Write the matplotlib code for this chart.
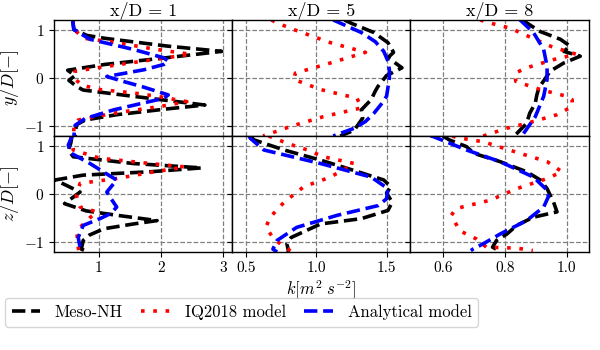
import matplotlib
matplotlib.use("Agg")
import matplotlib.pyplot as plt
from matplotlib.ticker import FormatStrFormatter
from matplotlib.lines import Line2D

plt.rcParams['font.family'] = 'serif'
plt.rcParams['font.serif'] = ['cmr10', 'DejaVu Serif']
plt.rcParams['mathtext.fontset'] = 'cm'
plt.rcParams['axes.formatter.use_mathtext'] = True
plt.rcParams['axes.unicode_minus'] = True

titles = ["x/D = 1", "x/D = 5", "x/D = 8"]
row_labels = [r"$y/D[-]$", r"$z/D[-]$"]
xlabel = r"$k[m^2\ s^{-2}]$"
legend_labels = ["Meso-NH", "IQ2018 model", "Analytical model"]
xticks = [[1, 2, 3], [0.5, 1.0, 1.5], [0.6, 0.8, 1.0]]
xlims = [(0.28, 3.15), (0.40, 1.67), (0.495, 1.07)]

# ---------------- top row (y/D) ----------------
# x/D = 1
t1_meso_y = [1.2, 1.0, 0.88, 0.82, 0.66, 0.55, 0.42, 0.28, 0.16, 0.05, -0.05, -0.18, -0.25, -0.38, -0.56, -0.64, -0.76, -0.87, -0.97, -1.2]
t1_meso_k = [0.58, 0.6, 0.81, 1.1, 2.1, 2.98, 2.1, 1.1, 0.5, 0.62, 0.52, 0.65, 0.75, 1.56, 2.71, 2.1, 1.29, 0.78, 0.64, 0.62]
t1_iq_y = [1.2, 1.0, 0.82, 0.73, 0.6, 0.49, 0.38, 0.28, 0.14, 0.0, -0.15, -0.24, -0.31, -0.38, -0.49, -0.59, -0.73, -0.87, -0.97, -1.2]
t1_iq_k = [0.58, 0.6, 0.77, 1.29, 1.88, 2.48, 1.88, 1.34, 0.62, 0.6, 0.73, 1.02, 1.56, 1.94, 2.42, 1.99, 1.24, 0.67, 0.6, 0.6]
t1_an_y = [1.2, 1.0, 0.8, 0.59, 0.42, 0.35, 0.28, 0.17, 0.03, -0.08, -0.18, -0.35, -0.42, -0.66, -0.84, -0.98, -1.2]
t1_an_k = [0.58, 0.6, 0.86, 1.56, 2.04, 2.12, 2.05, 1.73, 1.13, 1.42, 1.7, 2.12, 2.05, 1.24, 0.78, 0.62, 0.6]

# x/D = 5
t2_meso_y = [1.2, 1.13, 0.94, 0.73, 0.53, 0.42, 0.21, 0.05, -0.17, -0.27, -0.45, -0.66, -0.83, -1.08, -1.2]
t2_meso_k = [1.2, 1.25, 1.41, 1.51, 1.55, 1.51, 1.61, 1.5, 1.44, 1.42, 1.39, 1.32, 1.33, 1.27, 1.17]
t2_iq_y = [1.2, 1.15, 1.0, 0.73, 0.53, 0.31, 0.10, -0.03, -0.24, -0.42, -0.62, -0.8, -1.0, -1.2]
t2_iq_k = [0.68, 0.71, 0.84, 1.10, 1.35, 1.10, 0.85, 0.84, 1.03, 1.29, 1.32, 1.05, 0.82, 0.62]
t2_an_y = [1.2, 0.94, 0.75, 0.55, 0.35, 0.17, 0.0, -0.2, -0.38, -0.55, -0.73, -0.9, -1.04, -1.2]
t2_an_k = [1.12, 1.32, 1.42, 1.48, 1.51, 1.52, 1.52, 1.51, 1.50, 1.46, 1.41, 1.35, 1.27, 1.12]

# x/D = 8
t3_meso_y = [1.2, 1.14, 0.96, 0.8, 0.66, 0.55, 0.45, 0.31, 0.14, -0.06, -0.2, -0.35, -0.52, -0.73, -0.94, -1.15, -1.2]
t3_meso_k = [0.86, 0.87, 0.914, 0.979, 1.01, 0.99, 1.043, 0.99, 0.946, 0.925, 0.91, 0.903, 0.898, 0.88, 0.87, 0.838, 0.83]
t3_iq_y = [1.2, 1.14, 1.03, 0.82, 0.65, 0.49, 0.38, 0.21, 0.10, -0.07, -0.24, -0.38, -0.45, -0.59, -0.76, -0.94, -1.04, -1.2]
t3_iq_k = [0.72, 0.75, 0.817, 0.89, 0.95, 1.03, 0.957, 0.87, 0.833, 0.835, 0.914, 1.0, 1.017, 1.017, 0.968, 0.87, 0.806, 0.73]
t3_an_y = [1.2, 0.94, 0.59, 0.24, -0.03, -0.38, -0.8, -1.15, -1.2]
t3_an_k = [0.849, 0.892, 0.925, 0.936, 0.936, 0.925, 0.898, 0.86, 0.85]

# ---------------- bottom row (z/D) ----------------
# x/D = 1
b1_meso_y = [1.2, 1.05, 0.91, 0.77, 0.63, 0.54, 0.46, 0.39, 0.29, 0.04, -0.2, -0.35, -0.44, -0.55, -0.62, -0.72, -0.85, -0.96, -1.14, -1.2]
b1_meso_k = [0.57, 0.55, 0.51, 0.59, 1.56, 2.66, 1.83, 0.75, 0.30, 0.70, 0.45, 0.80, 1.29, 1.94, 1.56, 1.08, 0.85, 0.75, 0.72, 0.83]
b1_iq_y = [1.2, 0.91, 0.74, 0.63, 0.56, 0.45, 0.32, 0.22, -0.03, -0.27, -0.37, -0.5, -0.69, -0.79, -1.0, -1.2]
b1_iq_k = [0.55, 0.59, 1.02, 1.83, 2.39, 1.85, 1.29, 0.70, 0.64, 0.70, 0.97, 0.85, 0.70, 0.65, 0.66, 0.68]
b1_an_y = [1.2, 1.01, 0.84, 0.63, 0.35, 0.29, 0.15, 0.04, -0.1, -0.27, -0.4, -0.51, -0.65, -0.9, -1.1, -1.17]
b1_an_k = [0.57, 0.51, 0.56, 0.86, 1.21, 1.29, 1.2, 1.13, 1.2, 1.29, 1.2, 1.02, 0.75, 0.67, 0.70, 0.67]

# x/D = 5
b2_meso_y = [1.2, 1.12, 0.91, 0.70, 0.53, 0.29, 0.15, 0.02, -0.17, -0.34, -0.51, -0.62, -0.9, -1.03, -1.17, -1.2]
b2_meso_k = [0.53, 0.554, 0.77, 1.03, 1.22, 1.48, 1.53, 1.50, 1.54, 1.51, 1.32, 1.03, 0.82, 0.79, 0.8, 0.8]
b2_iq_y = [1.2, 1.05, 0.91, 0.77, 0.63, 0.35, 0.15, -0.17, -0.48, -0.69, -0.9, -1.07, -1.14, -1.2]
b2_iq_k = [0.66, 0.79, 0.936, 1.05, 1.27, 1.10, 0.91, 0.77, 0.67, 0.64, 0.69, 0.757, 0.8, 0.82]
b2_an_y = [1.2, 1.15, 0.91, 0.63, 0.35, 0.11, -0.1, -0.24, -0.44, -0.69, -0.96, -1.14, -1.2]
b2_an_k = [0.52, 0.53, 0.626, 1.03, 1.39, 1.51, 1.50, 1.44, 1.15, 0.86, 0.72, 0.69, 0.72]

# x/D = 8
b3_meso_y = [1.2, 1.12, 0.98, 0.84, 0.67, 0.46, 0.29, 0.11, -0.17, -0.37, -0.48, -0.65, -0.83, -0.96, -1.1, -1.17]
b3_meso_k = [0.6, 0.62, 0.676, 0.7, 0.784, 0.87, 0.914, 0.936, 0.957, 0.968, 0.892, 0.838, 0.806, 0.773, 0.76, 0.78]
b3_iq_y = [1.2, 1.17, 1.08, 0.84, 0.67, 0.46, 0.32, 0.11, -0.13, -0.3, -0.44, -0.76, -0.93, -1.1, -1.12, -1.17]
b3_iq_k = [0.63, 0.643, 0.73, 0.849, 0.936, 0.984, 0.936, 0.838, 0.752, 0.643, 0.627, 0.654, 0.708, 0.74, 0.838, 0.89]
b3_an_y = [1.2, 1.19, 0.91, 0.67, 0.35, 0.08, -0.06, -0.27, -0.55, -0.83, -1.03, -1.14, -1.17]
b3_an_k = [0.56, 0.568, 0.676, 0.784, 0.892, 0.936, 0.94, 0.925, 0.87, 0.784, 0.73, 0.697, 0.69]

panels = [
    [(t1_meso_k, t1_meso_y, t1_iq_k, t1_iq_y, t1_an_k, t1_an_y),
     (t2_meso_k, t2_meso_y, t2_iq_k, t2_iq_y, t2_an_k, t2_an_y),
     (t3_meso_k, t3_meso_y, t3_iq_k, t3_iq_y, t3_an_k, t3_an_y)],
    [(b1_meso_k, b1_meso_y, b1_iq_k, b1_iq_y, b1_an_k, b1_an_y),
     (b2_meso_k, b2_meso_y, b2_iq_k, b2_iq_y, b2_an_k, b2_an_y),
     (b3_meso_k, b3_meso_y, b3_iq_k, b3_iq_y, b3_an_k, b3_an_y)],
]

fig, axes = plt.subplots(2, 3, figsize=(6, 3.5), dpi=100, sharex='col', sharey=True)
fig.subplots_adjust(left=0.09, right=0.981, top=0.943, bottom=0.28, wspace=0, hspace=0)

lw = 2.6
meso_style = dict(color='black', linestyle=(0, (3.7, 1.6)), linewidth=lw)
iq_style = dict(color='red', linestyle=(0, (1, 2.4)), linewidth=lw)
an_style = dict(color='blue', linestyle=(0, (3.7, 1.6)), linewidth=lw)

for r in range(2):
    for c in range(3):
        ax = axes[r, c]
        mk, my, ik, iy, ak, ay = panels[r][c]
        ax.plot(mk, my, **meso_style)
        ax.plot(ik, iy, **iq_style)
        ax.plot(ak, ay, **an_style)
        ax.set_xlim(*xlims[c])
        ax.set_ylim(-1.2, 1.2)
        ax.set_xticks(xticks[c])
        ax.set_yticks([-1, 0, 1])
        ax.grid(True, linestyle='--', color='gray', linewidth=0.9)
        ax.tick_params(labelsize=11)
        for s in ax.spines.values():
            s.set_linewidth(1.0)
        if r == 0:
            ax.set_title(titles[c], fontsize=13, pad=2)
        if c == 0:
            ax.set_ylabel(row_labels[r], fontsize=13, labelpad=2)

axes[1, 0].xaxis.set_major_formatter(FormatStrFormatter('%d'))
axes[1, 1].xaxis.set_major_formatter(FormatStrFormatter('%.1f'))
axes[1, 2].xaxis.set_major_formatter(FormatStrFormatter('%.1f'))
axes[1, 1].set_xlabel(xlabel, fontsize=12, labelpad=2)

handles = [Line2D([], [], **meso_style), Line2D([], [], **iq_style), Line2D([], [], **an_style)]
fig.legend(handles, legend_labels, loc='center', bbox_to_anchor=(0.4025, 0.108), ncol=3,
           fontsize=12, frameon=True, fancybox=True, handlelength=1.7, handletextpad=0.9,
           columnspacing=1.1, borderpad=0.4)

fig.savefig('out.png', dpi=100)
